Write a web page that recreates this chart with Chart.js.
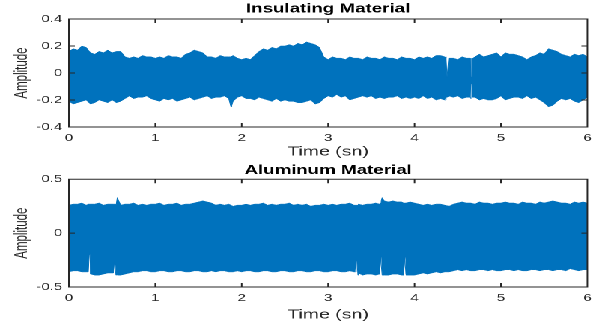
<!DOCTYPE html>
<html>
<head>
<meta charset="utf-8">
<script src="https://cdn.jsdelivr.net/npm/chart.js@4.4.0/dist/chart.umd.min.js"></script>
<style>
  html, body { margin: 0; padding: 0; background: #fff; }
  body { width: 599px; height: 327px; overflow: hidden; }
  /* the reference is stretched sideways, so draw narrow and stretch */
  #stretch { width: 400px; transform: scaleX(1.4975); transform-origin: 0 0; }
  .panel { width: 400px; }
  canvas { display: block; }
</style>
</head>
<body>
<div id="stretch">
  <div class="panel"><canvas id="topChart" width="400" height="163"></canvas></div>
  <div class="panel"><canvas id="bottomChart" width="400" height="164"></canvas></div>
</div>
<script>
// Time axis (seconds), one envelope reading every 0.1 s
const timeSec = [0,0.1,0.2,0.3,0.4,0.5,0.6,0.7,0.8,0.9,
  1.0,1.1,1.2,1.3,1.4,1.5,1.6,1.7,1.8,1.9,
  2.0,2.1,2.2,2.3,2.4,2.5,2.6,2.7,2.8,2.9,
  3.0,3.1,3.2,3.3,3.4,3.5,3.6,3.7,3.8,3.9,
  4.0,4.1,4.2,4.3,4.4,4.5,4.6,4.7,4.8,4.9,
  5.0,5.1,5.2,5.3,5.4,5.5,5.6,5.7,5.8,5.9,
  6.0];
// extra readings half way between the ones above
const timeMidSec = [0.05,0.15,0.25,0.35,0.45,0.55,0.65,0.75,0.85,0.95,
  1.05,1.15,1.25,1.35,1.45,1.55,1.65,1.75,1.85,1.95,
  2.05,2.15,2.25,2.35,2.45,2.55,2.65,2.75,2.85,2.95,
  3.05,3.15,3.25,3.35,3.45,3.55,3.65,3.75,3.85,3.95,
  4.05,4.15,4.25,4.35,4.45,4.55,4.65,4.75,4.85,4.95,
  5.05,5.15,5.25,5.35,5.45,5.55,5.65,5.75,5.85,5.95];

// Insulating material: upper / lower envelope of the signal
const insulatingUpper = [0.16,0.17,0.19,0.14,0.15,0.15,0.16,0.11,0.11,0.12,
  0.11,0.11,0.12,0.11,0.15,0.16,0.12,0.11,0.12,0.13,
  0.10,0.10,0.16,0.17,0.18,0.20,0.20,0.21,0.22,0.19,
  0.10,0.11,0.10,0.11,0.10,0.11,0.10,0.11,0.10,0.11,
  0.10,0.11,0.11,0.13,0.11,0.10,0.11,0.12,0.12,0.14,
  0.12,0.14,0.13,0.10,0.13,0.14,0.17,0.14,0.12,0.13,
  0.12];
const insulatingUpperMid = [0.18,0.20,0.15,0.16,0.17,0.16,0.12,0.12,0.13,0.12,
  0.12,0.13,0.12,0.14,0.17,0.15,0.12,0.13,0.12,0.11,
  0.11,0.13,0.18,0.19,0.20,0.21,0.22,0.23,0.21,0.12,
  0.12,0.11,0.12,0.11,0.12,0.11,0.12,0.11,0.12,0.11,
  0.12,0.12,0.13,0.12,0.11,0.12,0.11,0.14,0.13,0.15,
  0.15,0.14,0.12,0.12,0.15,0.18,0.16,0.13,0.14,0.14];
const insulatingLower = [-0.21,-0.22,-0.20,-0.22,-0.21,-0.20,-0.21,-0.17,-0.18,-0.17,
  -0.20,-0.19,-0.19,-0.20,-0.18,-0.19,-0.17,-0.18,-0.17,-0.21,
  -0.17,-0.19,-0.18,-0.20,-0.19,-0.20,-0.21,-0.22,-0.20,-0.22,
  -0.17,-0.16,-0.17,-0.19,-0.17,-0.17,-0.18,-0.18,-0.17,-0.18,
  -0.18,-0.17,-0.18,-0.19,-0.17,-0.17,-0.18,-0.18,-0.19,-0.20,
  -0.17,-0.19,-0.18,-0.17,-0.18,-0.22,-0.24,-0.19,-0.19,-0.22,
  -0.18];
const insulatingLowerMid = [-0.23,-0.21,-0.23,-0.20,-0.22,-0.22,-0.19,-0.19,-0.18,-0.19,
  -0.21,-0.20,-0.21,-0.19,-0.20,-0.18,-0.19,-0.18,-0.19,-0.18,
  -0.19,-0.20,-0.19,-0.21,-0.21,-0.21,-0.22,-0.21,-0.23,-0.19,
  -0.18,-0.18,-0.20,-0.18,-0.18,-0.19,-0.19,-0.18,-0.19,-0.19,
  -0.19,-0.19,-0.20,-0.20,-0.18,-0.19,-0.19,-0.20,-0.20,-0.19,
  -0.20,-0.18,-0.19,-0.19,-0.20,-0.25,-0.21,-0.20,-0.21,-0.20];
// short events (spikes and dropouts) between the readings
const insulatingEventTime = [1.875, 1.885, 4.365, 4.376, 4.384, 4.395, 4.645, 4.656, 4.664, 4.675];
const insulatingEventUpper = [0.12, 0.12, 0.11, -0.03, -0.03, 0.11, 0.11, -0.03, -0.03, 0.11];
const insulatingEventLower = [-0.25, -0.24, -0.18, -0.18, -0.18, -0.17, -0.18, -0.08, -0.08, -0.18];

// Aluminum material: upper / lower envelope of the signal
const aluminumUpper = [0.26,0.27,0.26,0.27,0.26,0.27,0.26,0.27,0.26,0.26,
  0.27,0.26,0.27,0.26,0.27,0.29,0.29,0.26,0.26,0.25,
  0.26,0.26,0.27,0.26,0.26,0.27,0.26,0.26,0.25,0.26,
  0.26,0.26,0.27,0.26,0.26,0.27,0.28,0.29,0.29,0.28,
  0.28,0.26,0.26,0.27,0.25,0.28,0.28,0.27,0.28,0.27,
  0.28,0.28,0.27,0.28,0.27,0.28,0.30,0.28,0.27,0.28,
  0.28];
const aluminumUpperMid = [0.27,0.28,0.27,0.28,0.27,0.28,0.27,0.28,0.27,0.27,
  0.28,0.27,0.28,0.27,0.28,0.30,0.28,0.27,0.27,0.26,
  0.27,0.27,0.28,0.27,0.27,0.28,0.27,0.27,0.26,0.27,
  0.27,0.27,0.28,0.27,0.27,0.28,0.30,0.30,0.29,0.29,
  0.27,0.27,0.27,0.26,0.27,0.29,0.28,0.29,0.28,0.28,
  0.29,0.28,0.29,0.28,0.29,0.29,0.29,0.28,0.29,0.29];
const aluminumLower = [-0.36,-0.35,-0.36,-0.39,-0.38,-0.37,-0.39,-0.37,-0.36,-0.35,
  -0.36,-0.35,-0.36,-0.35,-0.36,-0.35,-0.36,-0.36,-0.35,-0.36,
  -0.36,-0.35,-0.36,-0.35,-0.36,-0.35,-0.36,-0.35,-0.36,-0.35,
  -0.36,-0.35,-0.36,-0.36,-0.39,-0.38,-0.38,-0.39,-0.38,-0.38,
  -0.39,-0.37,-0.37,-0.37,-0.36,-0.34,-0.34,-0.35,-0.34,-0.34,
  -0.35,-0.34,-0.34,-0.35,-0.34,-0.34,-0.35,-0.34,-0.33,-0.35,
  -0.34];
const aluminumLowerMid = [-0.35,-0.36,-0.38,-0.39,-0.37,-0.38,-0.38,-0.36,-0.35,-0.36,
  -0.35,-0.36,-0.35,-0.36,-0.35,-0.36,-0.35,-0.35,-0.36,-0.35,
  -0.35,-0.36,-0.35,-0.36,-0.35,-0.36,-0.35,-0.36,-0.35,-0.36,
  -0.35,-0.36,-0.35,-0.37,-0.38,-0.39,-0.39,-0.38,-0.39,-0.39,
  -0.38,-0.38,-0.36,-0.36,-0.35,-0.35,-0.35,-0.34,-0.35,-0.35,
  -0.34,-0.35,-0.35,-0.34,-0.35,-0.34,-0.34,-0.35,-0.34,-0.34];
const aluminumEventTime = [0.225, 0.236, 0.244, 0.255, 0.515, 0.526, 0.534, 0.545, 0.56,
  3.315, 3.326, 3.334, 3.345, 3.595, 3.606, 3.614, 3.625, 3.875, 3.886, 3.894, 3.905];
const aluminumEventUpper = [0.27, 0.27, 0.27, 0.27, 0.27, 0.27, 0.27, 0.27, 0.33,
  0.26, 0.26, 0.26, 0.26, 0.27, 0.28, 0.30, 0.33, 0.28, 0.28, 0.28, 0.28];
const aluminumEventLower = [-0.36, -0.20, -0.20, -0.38, -0.37, -0.25, -0.25, -0.39, -0.39,
  -0.36, -0.26, -0.26, -0.39, -0.38, -0.22, -0.22, -0.39, -0.39, -0.22, -0.22, -0.39];

// Tick labels
const timeTicks = [0, 1, 2, 3, 4, 5, 6];
const insulatingTicks = [-0.4, -0.2, 0, 0.2, 0.4];
const aluminumTicks = [-0.5, 0, 0.5];

const FONT = '"Liberation Sans", Arial, Helvetica, sans-serif';
const BLUE = '#0072BD';
const AXIS = '#262626';

// Merge several (times, values) pairs into one list of points sorted by time
function buildPoints(sets) {
  const points = [];
  sets.forEach(([times, values]) => {
    times.forEach((t, i) => points.push({ x: t, y: values[i] }));
  });
  points.sort((a, b) => a.x - b.x);
  return points;
}

// MATLAB style box with inward ticks on all four sides
const matlabBox = {
  id: 'matlabBox',
  afterDraw(chart) {
    const { ctx, chartArea: a, scales: { x, y } } = chart;
    ctx.save();
    ctx.strokeStyle = AXIS;
    ctx.lineWidth = 1;
    ctx.beginPath();
    ctx.rect(a.left, a.top, a.right - a.left, a.bottom - a.top);
    x.ticks.forEach(tk => {
      const px = x.getPixelForValue(tk.value);
      ctx.moveTo(px, a.bottom); ctx.lineTo(px, a.bottom - 4);
      ctx.moveTo(px, a.top); ctx.lineTo(px, a.top + 4);
    });
    y.ticks.forEach(tk => {
      const py = y.getPixelForValue(tk.value);
      ctx.moveTo(a.left, py); ctx.lineTo(a.left + 4, py);
      ctx.moveTo(a.right, py); ctx.lineTo(a.right - 4, py);
    });
    ctx.stroke();
    ctx.restore();
  }
};

function makeChart(canvasId, setup) {
  const upperPts = buildPoints([[timeSec, setup.upper], [timeMidSec, setup.upperMid], [setup.eventTime, setup.eventUpper]]);
  const lowerPts = buildPoints([[timeSec, setup.lower], [timeMidSec, setup.lowerMid], [setup.eventTime, setup.eventLower]]);

  return new Chart(document.getElementById(canvasId), {
    type: 'line',
    data: {
      datasets: [
        { data: lowerPts, borderColor: BLUE, borderWidth: 0.5, pointRadius: 0, fill: false },
        { data: upperPts, borderColor: BLUE, backgroundColor: BLUE, borderWidth: 0.5, pointRadius: 0, fill: '-1' }
      ]
    },
    options: {
      responsive: false,
      devicePixelRatio: 2,
      animation: false,
      events: [],
      layout: { padding: { left: 0, right: 6.7, top: 0, bottom: 0 } },
      plugins: {
        legend: { display: false },
        tooltip: { enabled: false },
        title: {
          display: true,
          fullSize: false,
          text: setup.title,
          color: '#000',
          font: { family: FONT, size: 12.5, weight: 'bold' },
          padding: setup.titlePadding
        }
      },
      scales: {
        x: {
          type: 'linear',
          min: 0,
          max: 6,
          afterBuildTicks: s => { s.ticks = timeTicks.map(v => ({ value: v })); },
          afterFit: s => { s.height = setup.xAxisHeight; },
          grid: { display: false, drawTicks: false },
          border: { display: false },
          ticks: { color: AXIS, font: { family: FONT, size: 10 }, padding: 5, maxRotation: 0 },
          title: {
            display: true,
            text: 'Time (sn)',
            color: AXIS,
            font: { family: FONT, size: 13 },
            padding: { top: 0, bottom: setup.xTitleBottom }
          }
        },
        y: {
          min: setup.yTicks[0],
          max: setup.yTicks[setup.yTicks.length - 1],
          afterBuildTicks: s => { s.ticks = setup.yTicks.map(v => ({ value: v })); },
          afterFit: s => { s.width = 46; },
          grid: { display: false, drawTicks: false },
          border: { display: false },
          ticks: { color: AXIS, font: { family: FONT, size: 10 }, padding: 4.5, callback: v => String(v) },
          title: {
            display: true,
            text: 'Amplitude',
            color: AXIS,
            font: { family: FONT, size: 11.5 },
            padding: { top: 7.8, bottom: 0 }
          }
        }
      }
    },
    plugins: [matlabBox]
  });
}

// Entry point
makeChart('topChart', {
  title: 'Insulating Material',
  upper: insulatingUpper,
  upperMid: insulatingUpperMid,
  lower: insulatingLower,
  lowerMid: insulatingLowerMid,
  eventTime: insulatingEventTime,
  eventUpper: insulatingEventUpper,
  eventLower: insulatingEventLower,
  yTicks: insulatingTicks,
  titlePadding: { top: 1.5, bottom: 2.5 },
  xAxisHeight: 36,
  xTitleBottom: 3.2
});

makeChart('bottomChart', {
  title: 'Aluminum Material',
  upper: aluminumUpper,
  upperMid: aluminumUpperMid,
  lower: aluminumLower,
  lowerMid: aluminumLowerMid,
  eventTime: aluminumEventTime,
  eventUpper: aluminumEventUpper,
  eventLower: aluminumEventLower,
  yTicks: aluminumTicks,
  titlePadding: { top: 0, bottom: 1.3 },
  xAxisHeight: 40,
  xTitleBottom: 4.2
});
</script>
</body>
</html>
